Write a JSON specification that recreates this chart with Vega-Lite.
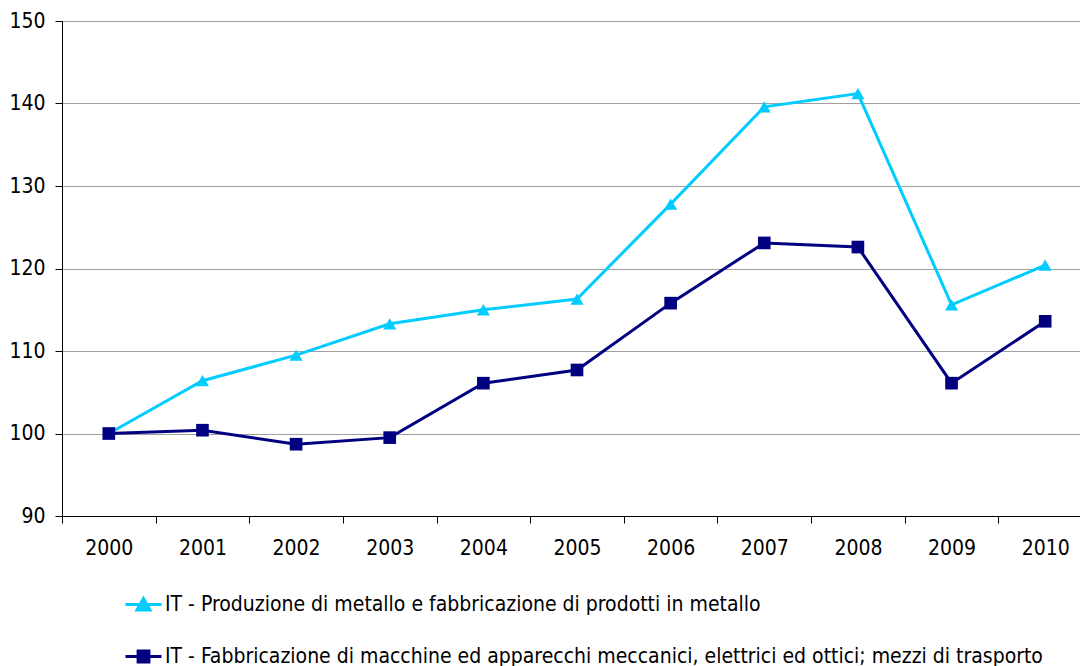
{
  "$schema": "https://vega.github.io/schema/vega-lite/v6.json",
  "width": 1030,
  "height": 495,
  "autosize": {"type": "none"},
  "padding": {"left": 62, "top": 21, "right": 0, "bottom": 150},
  "background": "white",
  "config": {
    "font": "DejaVu Sans Condensed",
    "view": {"stroke": "#000000", "strokeWidth": 1},
    "axis": {"labelFont": "DejaVu Sans Condensed", "labelFontSize": 21, "labelColor": "#000000", "domainColor": "#000000", "tickColor": "#000000", "tickSize": 7, "title": null}
  },
  "data": {
    "values": [
      {"year": "2000", "series": "IT - Produzione di metallo e fabbricazione di prodotti in metallo", "value": 100.0},
      {"year": "2001", "series": "IT - Produzione di metallo e fabbricazione di prodotti in metallo", "value": 106.4},
      {"year": "2002", "series": "IT - Produzione di metallo e fabbricazione di prodotti in metallo", "value": 109.5},
      {"year": "2003", "series": "IT - Produzione di metallo e fabbricazione di prodotti in metallo", "value": 113.3},
      {"year": "2004", "series": "IT - Produzione di metallo e fabbricazione di prodotti in metallo", "value": 115.0},
      {"year": "2005", "series": "IT - Produzione di metallo e fabbricazione di prodotti in metallo", "value": 116.3},
      {"year": "2006", "series": "IT - Produzione di metallo e fabbricazione di prodotti in metallo", "value": 127.8},
      {"year": "2007", "series": "IT - Produzione di metallo e fabbricazione di prodotti in metallo", "value": 139.6},
      {"year": "2008", "series": "IT - Produzione di metallo e fabbricazione di prodotti in metallo", "value": 141.2},
      {"year": "2009", "series": "IT - Produzione di metallo e fabbricazione di prodotti in metallo", "value": 115.6},
      {"year": "2010", "series": "IT - Produzione di metallo e fabbricazione di prodotti in metallo", "value": 120.4},
      {"year": "2000", "series": "IT - Fabbricazione di macchine ed apparecchi meccanici, elettrici ed ottici; mezzi di trasporto", "value": 100.0},
      {"year": "2001", "series": "IT - Fabbricazione di macchine ed apparecchi meccanici, elettrici ed ottici; mezzi di trasporto", "value": 100.4},
      {"year": "2002", "series": "IT - Fabbricazione di macchine ed apparecchi meccanici, elettrici ed ottici; mezzi di trasporto", "value": 98.7},
      {"year": "2003", "series": "IT - Fabbricazione di macchine ed apparecchi meccanici, elettrici ed ottici; mezzi di trasporto", "value": 99.5},
      {"year": "2004", "series": "IT - Fabbricazione di macchine ed apparecchi meccanici, elettrici ed ottici; mezzi di trasporto", "value": 106.1},
      {"year": "2005", "series": "IT - Fabbricazione di macchine ed apparecchi meccanici, elettrici ed ottici; mezzi di trasporto", "value": 107.7},
      {"year": "2006", "series": "IT - Fabbricazione di macchine ed apparecchi meccanici, elettrici ed ottici; mezzi di trasporto", "value": 115.8},
      {"year": "2007", "series": "IT - Fabbricazione di macchine ed apparecchi meccanici, elettrici ed ottici; mezzi di trasporto", "value": 123.1},
      {"year": "2008", "series": "IT - Fabbricazione di macchine ed apparecchi meccanici, elettrici ed ottici; mezzi di trasporto", "value": 122.6},
      {"year": "2009", "series": "IT - Fabbricazione di macchine ed apparecchi meccanici, elettrici ed ottici; mezzi di trasporto", "value": 106.1},
      {"year": "2010", "series": "IT - Fabbricazione di macchine ed apparecchi meccanici, elettrici ed ottici; mezzi di trasporto", "value": 113.6}
    ]
  },
  "encoding": {
    "x": {
      "field": "year", "type": "ordinal",
      "scale": {"type": "band", "paddingInner": 0, "paddingOuter": 0},
      "axis": {"labelAngle": 0, "tickBand": "extent", "labelPadding": 14, "grid": false}
    },
    "y": {
      "field": "value", "type": "quantitative",
      "scale": {"domain": [90, 150], "nice": false, "zero": false},
      "axis": {"values": [90, 100, 110, 120, 130, 140, 150], "labelPadding": 10, "grid": true, "gridColor": "#a0a0a0", "gridWidth": 1}
    },
    "color": {
      "field": "series", "type": "nominal",
      "scale": {
        "domain": ["IT - Produzione di metallo e fabbricazione di prodotti in metallo", "IT - Fabbricazione di macchine ed apparecchi meccanici, elettrici ed ottici; mezzi di trasporto"],
        "range": ["#00CCFF", "#000080"]
      },
      "legend": {
        "orient": "none", "legendX": 62, "legendY": 564, "direction": "vertical",
        "title": null, "padding": 0, "labelFontSize": 21, "labelFont": "DejaVu Sans Condensed", "labelColor": "#000000", "labelLimit": 0,
        "symbolSize": 1296, "labelOffset": 2, "rowPadding": 21,
        "symbolType": "M-1,0H1",
        "symbolStrokeWidth": 3,
        "encode": {
          "symbols": {
            "update": {
              "shape": {"signal": "datum.value === 'IT - Produzione di metallo e fabbricazione di prodotti in metallo' ? 'M-1,0H1M-0.36,0.3L0,-0.33L0.36,0.3Z' : 'M-1,0H1M-0.3,-0.3H0.3V0.3H-0.3Z'"},
              "fill": {"signal": "datum.value === 'IT - Produzione di metallo e fabbricazione di prodotti in metallo' ? '#00CCFF' : '#000080'"},
              "stroke": {"signal": "datum.value === 'IT - Produzione di metallo e fabbricazione di prodotti in metallo' ? '#00CCFF' : '#000080'"},
              "strokeWidth": {"value": 3},
              "opacity": {"value": 1}
            }
          }
        }
      }
    }
  },
  "layer": [
    {
      "mark": {"type": "line", "strokeWidth": 3}
    },
    {
      "transform": [{"filter": "datum.series === 'IT - Produzione di metallo e fabbricazione di prodotti in metallo'"}],
      "mark": {"type": "point", "filled": true, "opacity": 1, "size": 170, "shape": "triangle-up"}
    },
    {
      "transform": [{"filter": "datum.series !== 'IT - Produzione di metallo e fabbricazione di prodotti in metallo'"}],
      "mark": {"type": "point", "filled": true, "opacity": 1, "size": 160, "shape": "square"}
    }
  ]
}
